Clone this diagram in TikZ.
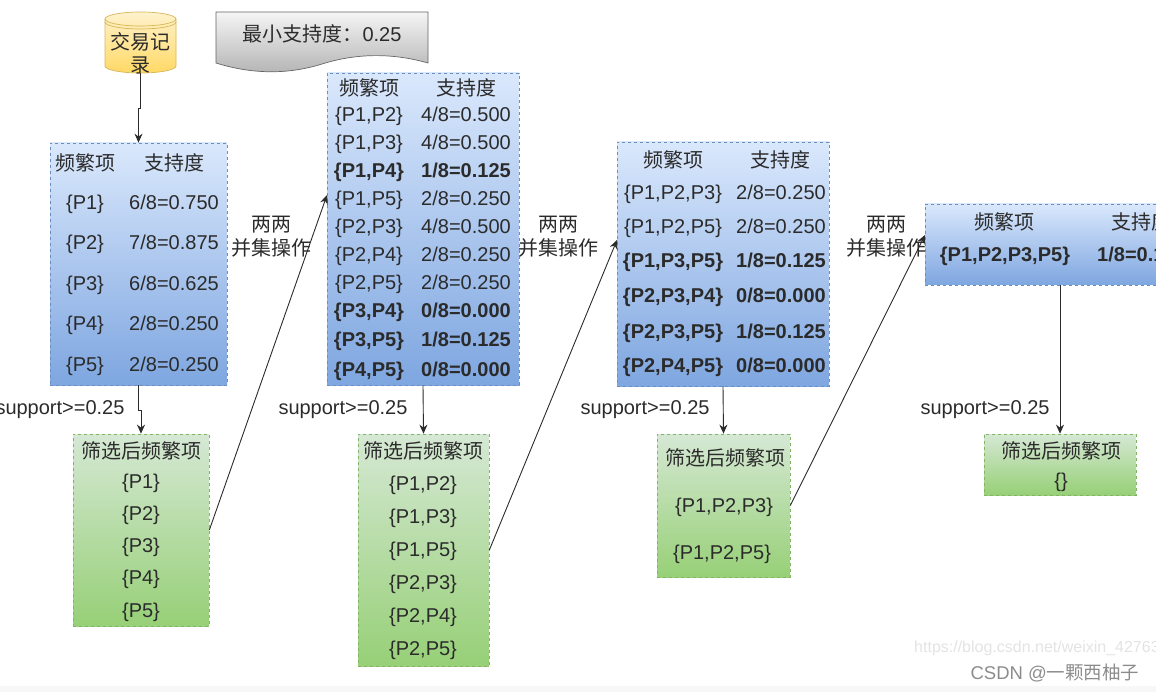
\documentclass[tikz,border=0pt]{standalone}
\usepackage{fontspec}
\setmainfont{Liberation Sans}
\newfontfamily\cjk{Noto Sans CJK SC}
\usetikzlibrary{arrows.meta}
\definecolor{inkgray}{HTML}{2B2B2B}
\definecolor{bluetop}{HTML}{DAE8FC}
\definecolor{bluelow}{HTML}{7EA6E0}
\definecolor{blueline}{HTML}{6C8EBF}
\definecolor{greentop}{HTML}{D5E8D4}
\definecolor{greenlow}{HTML}{97D077}
\definecolor{greenline}{HTML}{82B366}
\definecolor{yellowtop}{HTML}{FFF2CC}
\definecolor{yellowlow}{HTML}{FFD966}
\definecolor{yellowline}{HTML}{D6B656}
\tikzset{
    flow/.style={draw=inkgray, line width=0.9pt, -{Stealth[length=9pt,width=8pt]}},
    freqbox/.style={rectangle, draw=#1, dashed, dash pattern=on 3pt off 3pt, line width=0.7pt, inner sep=0pt},
    bluebox/.style={freqbox=blueline, top color=bluetop, bottom color=bluelow},
    greenbox/.style={freqbox=greenline, top color=greentop, bottom color=greenlow},
    basecell/.style={text=inkgray, inner sep=0pt},
    cell/.style={basecell, text height=14pt, text depth=0pt, font=\fontsize{20}{24}\selectfont},
    boldcell/.style={cell, font=\fontsize{20}{24}\selectfont\bfseries},
    headcell/.style={basecell, yshift=-1pt, font=\fontsize{20}{24}\selectfont\cjk},
    note/.style={basecell, yshift=-1pt, align=center, font=\fontsize{20}{24}\selectfont\cjk}
}
\begin{document}
\begin{tikzpicture}[x=1pt,y=-1pt]
    \useasboundingbox (0,0) rectangle (1156,692);
    \clip (0,0) rectangle (1156,692);
    \fill[gray!6] (0,686) rectangle (1156,692);

    % Data source and the threshold note
    \shade[top color=yellowtop, bottom color=yellowlow, draw=yellowline, line width=0.7pt] (105,19)
        arc[start angle=180, end angle=0, x radius=35.5pt, y radius=7pt] -- (176,66)
        arc[start angle=0, end angle=-180, x radius=35.5pt, y radius=7pt] -- cycle;
    \draw[yellowline, line width=0.7pt] (105,19) arc[start angle=180, end angle=360, x radius=35.5pt, y radius=7pt];
    \draw[yellowline, line width=0.7pt] (105,22) arc[start angle=180, end angle=360, x radius=35.5pt, y radius=7pt];
    \node[rectangle, inner sep=0pt, minimum width=71pt, minimum height=61pt] (source) at (140.5,42.5) {};
    \node[note, font=\fontsize{20}{23}\selectfont\cjk] (sourcetext) at (140.5,52) {交易记\\录};

    \shade[top color=gray!8, bottom color=gray!60, draw=gray!120, line width=0.7pt] (216,12) -- (428,12) -- (428,63)
        .. controls (393,53) and (357,53) .. (322,64) .. controls (287,75) and (251,74) .. (216,63) -- cycle;
    \node[basecell, font=\fontsize{20}{24}\selectfont] (minsup) at (322,34) {{\cjk 最小支持度：}0.25};

    % Candidate boxes
    \node[bluebox, minimum width=177pt, minimum height=242pt] (freq1) at (138.5,264) {};
    \node[bluebox, minimum width=192pt, minimum height=312pt] (freq2) at (423,229) {};
    \node[bluebox, minimum width=212pt, minimum height=244pt] (freq3) at (723,264) {};
    \node[bluebox, minimum width=270pt, minimum height=81pt] (freq4) at (1060,244.5) {};

    % Filtered boxes
    \node[greenbox, minimum width=136pt, minimum height=192pt] (kept1) at (141,530) {};
    \node[greenbox, minimum width=131pt, minimum height=232pt] (kept2) at (423.5,550) {};
    \node[greenbox, minimum width=133pt, minimum height=143pt] (kept3) at (723.5,505.5) {};
    \node[greenbox, minimum width=152pt, minimum height=61pt] (kept4) at (1060,464.5) {};

    % Table headers
    \foreach \name/\xa/\xb/\y in {h1/85/174/162, h2/369/466/87, h3/673/780/159, h4/1004/1141/221} {
        \node[headcell] (\name a) at (\xa,\y) {频繁项};
        \node[headcell] (\name b) at (\xb,\y) {支持度};
    }

    % Rows of the first table
    \foreach \y/\itemset/\supp in {203/{\{P1\}}/{6/8=0.750}, 243/{\{P2\}}/{7/8=0.875}, 284/{\{P3\}}/{6/8=0.625},
        324/{\{P4\}}/{2/8=0.250}, 364/{\{P5\}}/{2/8=0.250}} {
        \node[cell] (ra\y) at (85,\y) {\itemset};
        \node[cell] (sa\y) at (174,\y) {\supp};
    }

    % Rows of the second table
    \foreach \y/\itemset/\supp/\look in {115/{\{P1,P2\}}/{4/8=0.500}/cell, 143/{\{P1,P3\}}/{4/8=0.500}/cell,
        171/{\{P1,P4\}}/{1/8=0.125}/boldcell, 199/{\{P1,P5\}}/{2/8=0.250}/cell, 227/{\{P2,P3\}}/{4/8=0.500}/cell,
        255/{\{P2,P4\}}/{2/8=0.250}/cell, 283/{\{P2,P5\}}/{2/8=0.250}/cell, 311/{\{P3,P4\}}/{0/8=0.000}/boldcell,
        340/{\{P3,P5\}}/{1/8=0.125}/boldcell, 369/{\{P4,P5\}}/{0/8=0.000}/boldcell} {
        \node[\look] (rb\y) at (369,\y) {\itemset};
        \node[\look] (sb\y) at (466,\y) {\supp};
    }

    % Rows of the third table
    \foreach \y/\itemset/\supp/\look in {193/{\{P1,P2,P3\}}/{2/8=0.250}/cell, 227/{\{P1,P2,P5\}}/{2/8=0.250}/cell,
        261/{\{P1,P3,P5\}}/{1/8=0.125}/boldcell, 296/{\{P2,P3,P4\}}/{0/8=0.000}/boldcell,
        331/{\{P2,P3,P5\}}/{1/8=0.125}/boldcell, 366/{\{P2,P4,P5\}}/{0/8=0.000}/boldcell} {
        \node[\look] (rc\y) at (673,\y) {\itemset};
        \node[\look] (sc\y) at (781,\y) {\supp};
    }

    % Row of the fourth table
    \node[boldcell] (rd) at (1005,255) {\{P1,P2,P3,P5\}};
    \node[boldcell] (sd) at (1142,255) {1/8=0.125};

    % Filtered box contents
    \foreach \name/\x/\y in {t1/141/450, t2/423/450, t3/725/457, t4/1061/450} {
        \node[headcell] (\name) at (\x,\y) {筛选后频繁项};
    }
    \foreach \y/\itemset in {481/{\{P1\}}, 513/{\{P2\}}, 545/{\{P3\}}, 577/{\{P4\}}, 610/{\{P5\}}} {
        \node[cell] (ka\y) at (141,\y) {\itemset};
    }
    \foreach \y/\itemset in {483/{\{P1,P2\}}, 516/{\{P1,P3\}}, 549/{\{P1,P5\}}, 582/{\{P2,P3\}}, 615/{\{P2,P4\}}, 648/{\{P2,P5\}}} {
        \node[cell] (kb\y) at (423,\y) {\itemset};
    }
    \node[cell] (kc1) at (724,505) {\{P1,P2,P3\}};
    \node[cell] (kc2) at (722,552) {\{P1,P2,P5\}};
    \node[cell] (kd1) at (1061,480) {\{\}};

    % Side labels
    \foreach \name/\x in {sup1/60, sup2/343, sup3/645, sup4/985} {
        \node[cell] (\name) at (\x,407) {support>=0.25};
    }
    \foreach \name/\x in {join1/271, join2/558, join3/886} {
        \node[note] (\name) at (\x,236) {两两\\并集操作};
    }

    % Connectors
    \coordinate (in2) at (327,195);
    \coordinate (in3) at (617,240);
    \coordinate (in4) at (925,235);
    \draw[flow] (source.south) -- ++(0,35) -| (freq1.north);
    \draw[flow] (freq1.south) -- ++(0,25) -| (kept1.north);
    \draw[flow] (freq2.south) -- (kept2.north);
    \draw[flow] (freq3.south) -- (kept3.north);
    \draw[flow] (freq4.south) -- (kept4.north);
    \draw[flow] (kept1.east) -- (in2);
    \draw[flow] (kept2.east) -- (in3);
    \draw[flow] (kept3.east) -- (in4);

    % Watermark
    \node[anchor=west, text=gray!22, inner sep=0pt, font=\fontsize{16}{18}\selectfont] (mark) at (914,648) {https://blog.csdn.net/weixin\_42763};
    \node[text=gray!90, inner sep=0pt, font=\fontsize{18.5}{20}\selectfont] (csdn) at (1055,673) {CSDN @{\cjk 一颗西柚子}};
\end{tikzpicture}
\end{document}
